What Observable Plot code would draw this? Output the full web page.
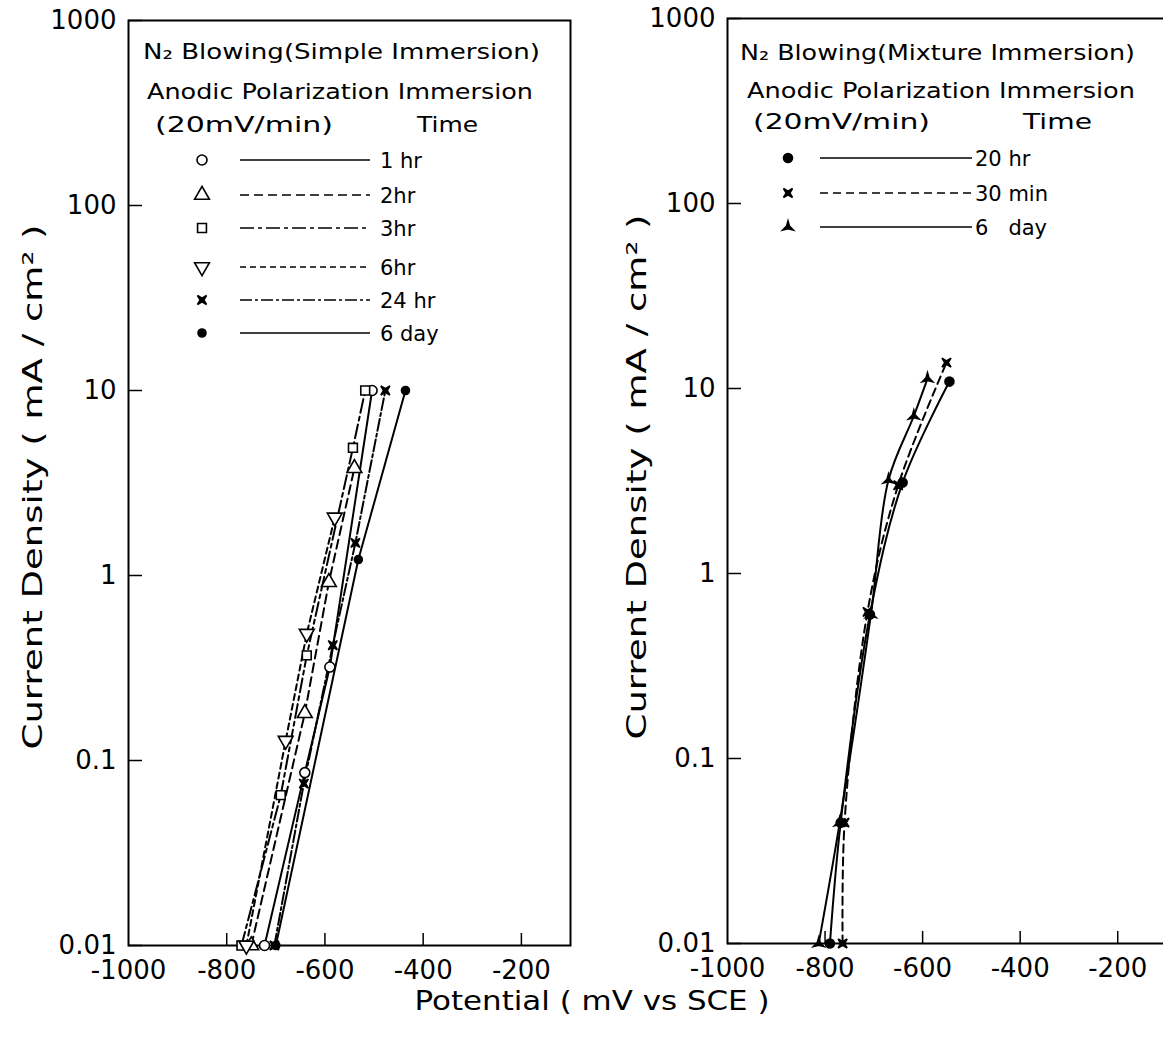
<!DOCTYPE html>
<html><head><meta charset="utf-8">
<script src="https://cdn.jsdelivr.net/npm/d3@7"></script>
<script src="https://cdn.jsdelivr.net/npm/@observablehq/plot@0.6"></script>
<style>
html,body{margin:0;padding:0;background:#fff;overflow:hidden;}
#wrap{position:relative;width:1163px;height:1044px;overflow:hidden;background:#fff;}
#wrap > svg{position:absolute;}
</style></head><body><div id="wrap"></div>
<script>
// ---------- axis ticks ----------
const xTicks = [-800, -600, -400, -200];
const xTickLabels = [-1000, -800, -600, -400, -200];
const yTicks = [0.01, 0.1, 1, 10, 100, 1000];
const yTickLabels = ["0.01", "0.1", "1", "10", "100", "1000"];
const xDomain = [-1000, -100];
const yDomain = [0.01, 1000];

// ---------- left panel: N2 blowing, simple immersion ([potential mV, current mA/cm2]) ----------
const leftTitle = ["N₂ Blowing(Simple Immersion)", "Anodic Polarization Immersion", "(20mV/min)", "Time"];
const leftNames = ["1 hr", "2hr", "3hr", "6hr", "24 hr", "6 day"];
const left1hr  = [[-723, 0.01], [-641, 0.086], [-590, 0.32], [-504, 10]];
const left2hr  = [[-750, 0.01], [-641, 0.18], [-592, 0.92], [-540, 3.8]];
const left3hr  = [[-770, 0.01], [-690, 0.065], [-637, 0.37], [-543, 4.9], [-518, 10]];
const left6hr  = [[-760, 0.01], [-680, 0.128], [-637, 0.485], [-580, 2.06]];
const left24hr = [[-703, 0.01], [-643, 0.075], [-584, 0.42], [-538, 1.5], [-477, 10]];
const left6day = [[-700, 0.01], [-532, 1.22], [-436, 10]];

// ---------- right panel: N2 blowing, mixture immersion ----------
const rightTitle = ["N₂ Blowing(Mixture Immersion)", "Anodic Polarization Immersion", "(20mV/min)", "Time"];
const rightNames = ["20 hr", "30 min", "6   day"];
const right20hr  = [[-790, 0.01], [-768, 0.045], [-708, 0.6], [-641, 3.1], [-545, 10.9]];
const right30min = [[-764, 0.01], [-760, 0.045], [-713, 0.62], [-650, 3.0], [-551, 13.8]];
const right6day  = [[-813, 0.01], [-770, 0.045], [-706, 0.6], [-670, 3.2], [-618, 7.1], [-590, 11.3]];

// ---------- custom symbols ----------
const bowtie = {draw(ctx, size) {
  const r = Math.sqrt(size / Math.PI), k = 0.4 * r;
  ctx.moveTo(-r, -r); ctx.lineTo(0, -k); ctx.lineTo(r, -r); ctx.lineTo(k, 0);
  ctx.lineTo(r, r); ctx.lineTo(0, k); ctx.lineTo(-r, r); ctx.lineTo(-k, 0); ctx.closePath();
}};
const tristar = {draw(ctx, size) {
  const r = Math.sqrt(size / Math.PI) * 1.35, k = r * 0.28;
  for (let i = 0; i < 3; i++) {
    const a = (-90 + 120 * i) * Math.PI / 180, b = (-30 + 120 * i) * Math.PI / 180;
    const p = [r * Math.cos(a), r * Math.sin(a)], q = [k * Math.cos(b), k * Math.sin(b)];
    if (i === 0) ctx.moveTo(p[0], p[1]); else ctx.lineTo(p[0], p[1]);
    ctx.lineTo(q[0], q[1]);
  }
  ctx.closePath();
}};

// styles (not data)
const leftSeries = [
  {data: left1hr,  symbol: "circle",   fill: "white", rotate: 0,   r: 5,   dash: null},
  {data: left2hr,  symbol: "triangle", fill: "white", rotate: 0,   r: 5.5, dash: "9,5"},
  {data: left3hr,  symbol: "square",   fill: "white", rotate: 0,   r: 5,   dash: "14,4,4,4"},
  {data: left6hr,  symbol: "triangle", fill: "white", rotate: 180, r: 5.5, dash: "6,4"},
  {data: left24hr, symbol: bowtie,     fill: "black", rotate: 0,   r: 4.5, dash: "12,3,3,3"},
  {data: left6day, symbol: "circle",   fill: "black", rotate: 0,   r: 4,   dash: null}
];
const rightSeries = [
  {data: right20hr,  symbol: "circle", fill: "black", rotate: 0, r: 4.5, dash: null},
  {data: right30min, symbol: bowtie,   fill: "black", rotate: 0, r: 4.5, dash: "8,5"},
  {data: right6day,  symbol: tristar,  fill: "black", rotate: 0, r: 4.5, dash: null}
];

const FONT = "DejaVu Sans";

function panel({width, height, mL, mR, mT, mB, series, curve}) {
  const fw = width - mL - mR, fh = height - mT - mB;
  const marks = [
    Plot.frame({stroke: "black", strokeWidth: 2}),
    Plot.tickY(yTicks, {y: d => d, insetRight: fw - 14, strokeWidth: 1.5}),
    Plot.tickX(xTicks, {x: d => d, insetTop: fh - 12, strokeWidth: 1.5}),
    Plot.axisY(yTicks, {anchor: "left", tickSize: 0, tickPadding: 12,
      tickFormat: d => yTickLabels[yTicks.indexOf(d)], fontSize: 26}),
    Plot.axisX(xTickLabels, {anchor: "bottom", tickSize: 0, tickPadding: 15,
      tickFormat: d => String(d), fontSize: 26})
  ];
  for (const s of series) {
    marks.push(Plot.line(s.data, {x: d => d[0], y: d => d[1], stroke: "black", strokeWidth: 2,
      strokeDasharray: s.dash, curve}));
  }
  for (const s of series) {
    marks.push(Plot.dot(s.data, {x: d => d[0], y: d => d[1], symbol: s.symbol, r: s.r,
      fill: s.fill, stroke: "black", strokeWidth: 1.6, rotate: s.rotate}));
  }
  return Plot.plot({
    width, height, marginLeft: mL, marginRight: mR, marginTop: mT, marginBottom: mB,
    x: {domain: xDomain}, y: {type: "log", domain: yDomain},
    style: {fontFamily: FONT, fontSize: "26px", color: "black", background: "transparent", overflow: "visible"},
    marks
  });
}

const wrap = document.getElementById("wrap");
const leftSvg = panel({width: 600, height: 990, mL: 128, mR: 30, mT: 20, mB: 45, series: leftSeries, curve: "linear"});
leftSvg.style.left = "0px"; leftSvg.style.top = "0px";
wrap.appendChild(leftSvg);
const rightSvg = panel({width: 600, height: 990, mL: 127, mR: 34, mT: 18, mB: 47, series: rightSeries, curve: "catmull-rom"});
rightSvg.style.left = "600px"; rightSvg.style.top = "0px";
wrap.appendChild(rightSvg);

// ---------- overlay: axis titles and legends ----------
const ov = d3.select(wrap).append("svg")
  .attr("width", 1163).attr("height", 1044)
  .style("left", "0px").style("top", "0px").style("pointer-events", "none")
  .attr("font-family", FONT).attr("fill", "black");

function fitText(g, str, x, y, len, size, anchor = "start", transform = null) {
  const t = g.append("text").attr("x", x).attr("y", y).attr("font-size", size)
    .attr("text-anchor", anchor).attr("textLength", len).attr("lengthAdjust", "spacingAndGlyphs")
    .style("white-space", "pre").text(str);
  if (transform) t.attr("transform", transform);
  return t;
}

// axis titles
fitText(ov, "Current Density ( mA / cm² )", 0, 0, 525, 27, "middle", "translate(42,487) rotate(-90)");
fitText(ov, "Current Density ( mA / cm² )", 0, 0, 525, 27, "middle", "translate(646,477) rotate(-90)");
fitText(ov, "Potential ( mV vs SCE )", 592, 1010, 355, 27, "middle");

function legend(title, names, series, cfg) {
  const g = ov.append("g");
  for (let i = 0; i < 4; i++) fitText(g, title[i], cfg.tx[i], cfg.ty[i], cfg.tw[i], 21);
  names.forEach((name, i) => {
    const s = series[i], cy = cfg.rows[i];
    const type = typeof s.symbol === "string" ? {circle: d3.symbolCircle, triangle: d3.symbolTriangle, square: d3.symbolSquare}[s.symbol] : s.symbol;
    const r = s.r * 1.0;
    g.append("path").attr("d", d3.symbol(type, Math.PI * r * r)())
      .attr("transform", `translate(${cfg.mx},${cy}) rotate(${s.rotate})`)
      .attr("fill", s.fill).attr("stroke", "black").attr("stroke-width", 1.6);
    g.append("line").attr("x1", cfg.l1).attr("x2", cfg.l2).attr("y1", cy).attr("y2", cy)
      .attr("stroke", "black").attr("stroke-width", 1.6).attr("stroke-dasharray", s.dash);
    g.append("text").attr("x", cfg.lx).attr("y", cy + 8).attr("font-size", 21)
      .style("white-space", "pre").text(name);
  });
}
legend(leftTitle, leftNames, leftSeries, {
  tx: [143, 147, 155, 417], ty: [59, 99, 132, 132], tw: [397, 386, 178, 61],
  rows: [160, 195, 228, 267, 300, 333], mx: 202, l1: 240, l2: 370, lx: 380
});
legend(rightTitle, rightNames, rightSeries, {
  tx: [740, 747, 753, 1023], ty: [60, 98, 129, 129], tw: [395, 388, 177, 69],
  rows: [158, 193, 227], mx: 788, l1: 820, l2: 972, lx: 975
});
</script></body></html>
